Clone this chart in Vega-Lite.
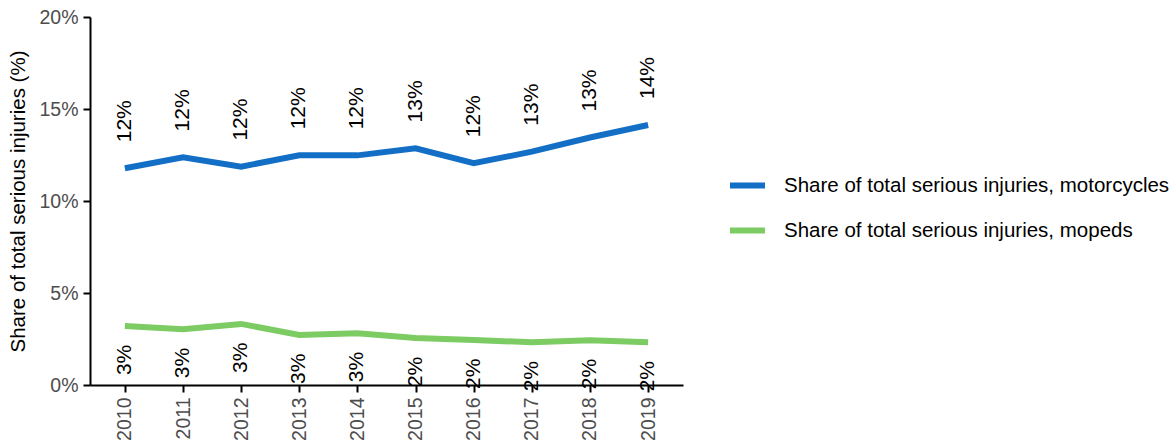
{
  "$schema": "https://vega.github.io/schema/vega-lite/v6.json",
  "width": 593,
  "height": 368,
  "autosize": "none",
  "padding": {"left": 90, "top": 17, "right": 492, "bottom": 61},
  "background": "white",
  "config": {
    "view": {"stroke": null},
    "font": "Liberation Sans",
    "axis": {
      "domainColor": "black", "domainWidth": 2, "tickColor": "black", "tickWidth": 2,
      "tickSize": 7, "grid": false, "labelColor": "#4d4d4d", "labelFont": "Liberation Sans",
      "labelFontSize": 19.5, "titleFont": "Liberation Sans", "titleFontSize": 20.5,
      "titleFontWeight": "normal", "titleColor": "black", "labelPadding": 5
    }
  },
  "data": {
    "values": [
      {"year": "2010", "series": "Share of total serious injuries, motorcycles", "value": 11.78, "label": "12%"},
      {"year": "2011", "series": "Share of total serious injuries, motorcycles", "value": 12.37, "label": "12%"},
      {"year": "2012", "series": "Share of total serious injuries, motorcycles", "value": 11.87, "label": "12%"},
      {"year": "2013", "series": "Share of total serious injuries, motorcycles", "value": 12.48, "label": "12%"},
      {"year": "2014", "series": "Share of total serious injuries, motorcycles", "value": 12.48, "label": "12%"},
      {"year": "2015", "series": "Share of total serious injuries, motorcycles", "value": 12.86, "label": "13%"},
      {"year": "2016", "series": "Share of total serious injuries, motorcycles", "value": 12.05, "label": "12%"},
      {"year": "2017", "series": "Share of total serious injuries, motorcycles", "value": 12.68, "label": "13%"},
      {"year": "2018", "series": "Share of total serious injuries, motorcycles", "value": 13.45, "label": "13%"},
      {"year": "2019", "series": "Share of total serious injuries, motorcycles", "value": 14.13, "label": "14%"},
      {"year": "2010", "series": "Share of total serious injuries, mopeds", "value": 3.2, "label": "3%"},
      {"year": "2011", "series": "Share of total serious injuries, mopeds", "value": 3.03, "label": "3%"},
      {"year": "2012", "series": "Share of total serious injuries, mopeds", "value": 3.32, "label": "3%"},
      {"year": "2013", "series": "Share of total serious injuries, mopeds", "value": 2.72, "label": "3%"},
      {"year": "2014", "series": "Share of total serious injuries, mopeds", "value": 2.81, "label": "3%"},
      {"year": "2015", "series": "Share of total serious injuries, mopeds", "value": 2.55, "label": "2%"},
      {"year": "2016", "series": "Share of total serious injuries, mopeds", "value": 2.45, "label": "2%"},
      {"year": "2017", "series": "Share of total serious injuries, mopeds", "value": 2.32, "label": "2%"},
      {"year": "2018", "series": "Share of total serious injuries, mopeds", "value": 2.43, "label": "2%"},
      {"year": "2019", "series": "Share of total serious injuries, mopeds", "value": 2.32, "label": "2%"}
    ]
  },
  "encoding": {
    "x": {
      "field": "year", "type": "ordinal",
      "scale": {"type": "point", "padding": 0.6},
      "axis": {"title": null, "labelAngle": -90, "labelAlign": "right", "labelBaseline": "middle"}
    },
    "y": {
      "field": "value", "type": "quantitative",
      "scale": {"domain": [0, 20], "nice": false, "zero": true},
      "axis": {"title": "Share of total serious injuries (%)", "values": [0, 5, 10, 15, 20], "labelExpr": "datum.value + '%'", "titlePadding": 10}
    }
  },
  "layer": [
    {
      "mark": {"type": "line", "strokeWidth": 6},
      "encoding": {
        "color": {
          "field": "series", "type": "nominal",
          "scale": {
            "domain": ["Share of total serious injuries, motorcycles", "Share of total serious injuries, mopeds"],
            "range": ["#136fc6", "#7dcb63"]
          },
          "legend": {
            "title": null, "orient": "none", "legendX": 637, "legendY": 148,
            "symbolType": "stroke", "symbolSize": 1225, "symbolStrokeWidth": 6,
            "labelFontSize": 20.5, "labelFont": "Liberation Sans", "labelColor": "black",
            "labelOffset": 16, "rowPadding": 12, "labelLimit": 500
          }
        }
      }
    },
    {
      "transform": [{"filter": "datum.series == 'Share of total serious injuries, motorcycles'"}],
      "mark": {"type": "text", "angle": -90, "align": "left", "baseline": "middle", "dx": 26, "fontSize": 21, "color": "black"},
      "encoding": {"text": {"field": "label"}}
    },
    {
      "transform": [{"filter": "datum.series == 'Share of total serious injuries, mopeds'"}],
      "mark": {"type": "text", "angle": -90, "align": "left", "baseline": "middle", "dx": -49, "fontSize": 21, "color": "black"},
      "encoding": {"text": {"field": "label"}}
    }
  ]
}
